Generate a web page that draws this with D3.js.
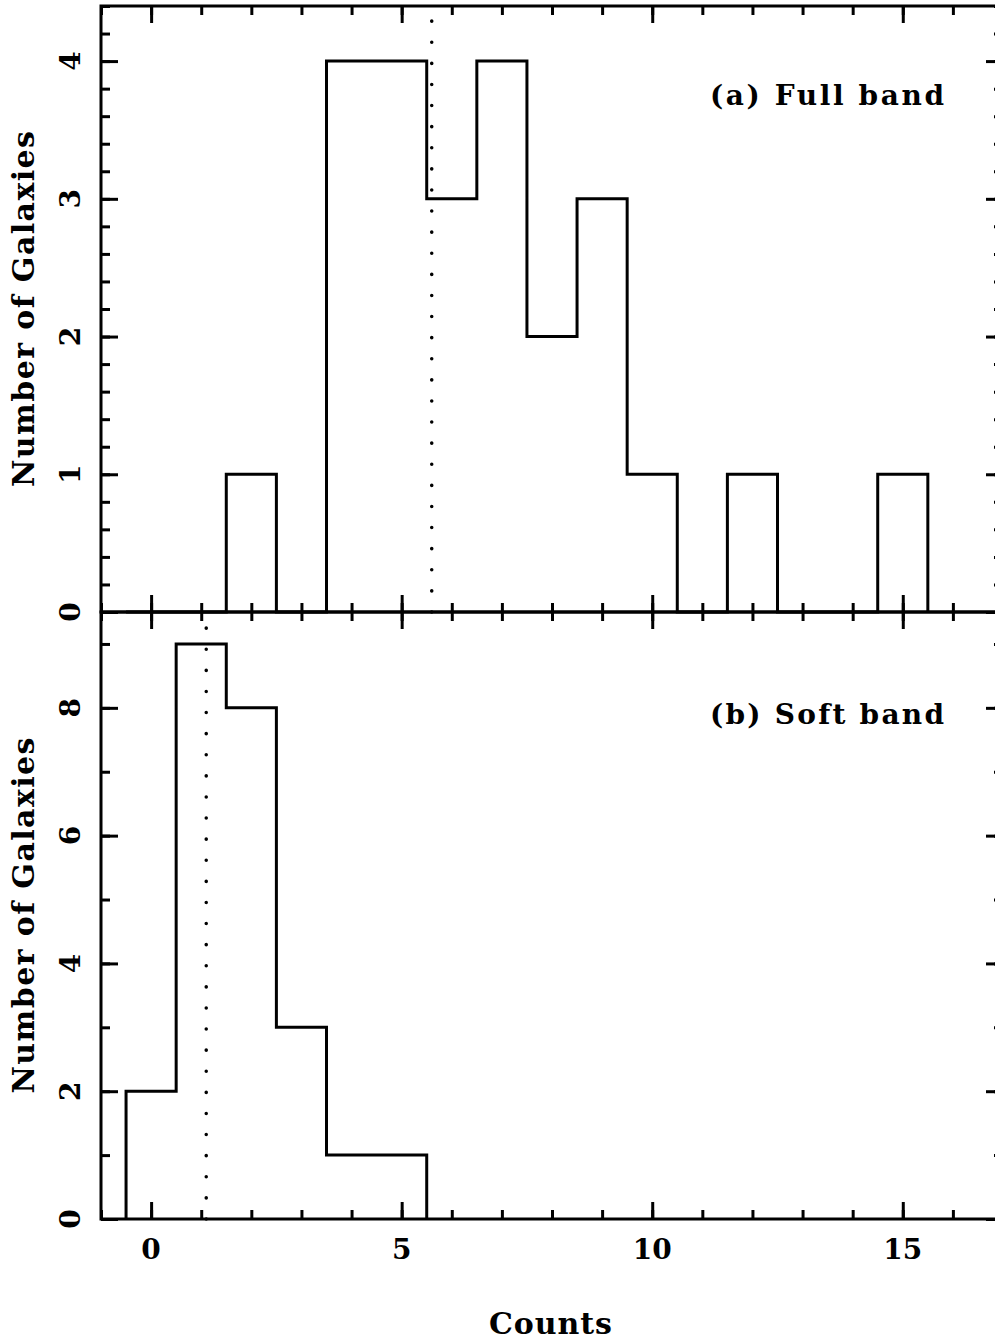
<!DOCTYPE html>
<html>
<head>
<meta charset="utf-8">
<script src="https://cdn.jsdelivr.net/npm/d3@7"></script>
<style>
    body { margin: 0; background: #fff; }
    svg text { font-family: "DejaVu Serif", serif; font-weight: bold; fill: #000; }
</style>
</head>
<body>
<div id="chart"></div>
<script>
// bin centres and counts
const fullBins = [0, 1, 2, 3, 4, 5, 6, 7, 8, 9, 10, 11, 12, 13, 14, 15];
const fullCounts = [0, 0, 1, 0, 4, 4, 3, 4, 2, 3, 1, 0, 1, 0, 0, 1];
const softBins = [0, 1, 2, 3, 4, 5];
const softCounts = [2, 9, 8, 3, 1, 1];
const fullMean = 5.6;
const softMean = 1.1;

const xTicks = [0, 5, 10, 15];
const fullYTicks = [0, 1, 2, 3, 4];
const softYTicks = [0, 2, 4, 6, 8];
const panelLabels = ['(a) Full band', '(b) Soft band'];

const width = 995, height = 1340;
const left = 101, right = 1003;
const top1 = 6, mid = 612, bot = 1219;

const svg = d3.select('#chart').append('svg')
    .attr('width', width)
    .attr('height', height);

const x = d3.scaleLinear().domain([-1, 17]).range([left, right]);
const yFull = d3.scaleLinear().domain([0, 4.4]).range([mid, top1]);
const ySoft = d3.scaleLinear().domain([0, 9.5]).range([bot, mid]);

const xMinor = d3.range(-1, 18, 1);

function drawPanel(y, bins, counts, mean, yTicks, yMinorStep, label, showXLabels, labelY) {
    const y0 = y.range()[0], y1 = y.range()[1];
    const g = svg.append('g');

    // frame
    g.append('rect')
        .attr('x', left).attr('y', y1)
        .attr('width', right - left).attr('height', y0 - y1)
        .attr('fill', 'none').attr('stroke', '#000').attr('stroke-width', 3);

    const yMinor = d3.range(0, y.domain()[1] + 1e-6, yMinorStep);

    // tick sets: [axis fn, scale, position transform, values, size]
    const tickSets = [
        [d3.axisBottom, x, `translate(0,${y0})`, xTicks, -17],
        [d3.axisBottom, x, `translate(0,${y0})`, xMinor, -9],
        [d3.axisTop, x, `translate(0,${y1})`, xTicks, -17],
        [d3.axisTop, x, `translate(0,${y1})`, xMinor, -9],
        [d3.axisLeft, y, `translate(${left},0)`, yTicks, -17],
        [d3.axisLeft, y, `translate(${left},0)`, yMinor, -9],
        [d3.axisRight, y, `translate(${right},0)`, yTicks, -17],
        [d3.axisRight, y, `translate(${right},0)`, yMinor, -9]
    ];
    tickSets.forEach(([fn, sc, tr, vals, size]) => {
        const ax = g.append('g')
            .attr('transform', tr)
            .call(fn(sc).tickValues(vals).tickSize(size).tickFormat(''));
        ax.select('.domain').remove();
        ax.selectAll('line').attr('stroke', '#000').attr('stroke-width', 3);
    });

    // y tick labels, rotated
    g.selectAll('.ylab')
        .data(yTicks)
        .enter().append('text')
        .attr('transform', d => `translate(80,${y(d)}) rotate(-90)`)
        .attr('text-anchor', 'middle')
        .style('font-size', '28px')
        .text(d => d);

    if (showXLabels) {
        g.selectAll('.xlab')
            .data(xTicks)
            .enter().append('text')
            .attr('x', d => x(d))
            .attr('y', y0 + 40)
            .attr('text-anchor', 'middle')
            .style('font-size', '28px')
            .text(d => d);
    }

    // histogram outline
    const pts = [[bins[0] - 0.5, 0]];
    bins.forEach((b, i) => {
        pts.push([b - 0.5, counts[i]]);
        pts.push([b + 0.5, counts[i]]);
    });
    pts.push([bins[bins.length - 1] + 0.5, 0]);
    g.append('path')
        .attr('d', d3.line().x(d => x(d[0])).y(d => y(d[1]))(pts))
        .attr('fill', 'none')
        .attr('stroke', '#000')
        .attr('stroke-width', 3);

    // mean marker
    g.append('line')
        .attr('x1', x(mean)).attr('x2', x(mean))
        .attr('y1', y0).attr('y2', y1)
        .attr('stroke', '#000')
        .attr('stroke-width', 3.5)
        .attr('stroke-linecap', 'round')
        .attr('stroke-dasharray', '0.1,21');

    // y axis title
    g.append('text')
        .attr('transform', `translate(34,${(y0 + y1) / 2}) rotate(-90)`)
        .attr('text-anchor', 'middle')
        .attr('textLength', 356)
        .style('font-size', '30px')
        .text('Number of Galaxies');

    g.append('text')
        .attr('x', 710)
        .attr('y', labelY)
        .attr('textLength', 234)
        .style('font-size', '28px')
        .text(label);
}

drawPanel(yFull, fullBins, fullCounts, fullMean, fullYTicks, 0.2, panelLabels[0], false, 105);
drawPanel(ySoft, softBins, softCounts, softMean, softYTicks, 1, panelLabels[1], true, 724);

svg.append('text')
    .attr('x', 489)
    .attr('y', 1334)
    .attr('textLength', 123)
    .style('font-size', '30px')
    .text('Counts');
</script>
</body>
</html>
